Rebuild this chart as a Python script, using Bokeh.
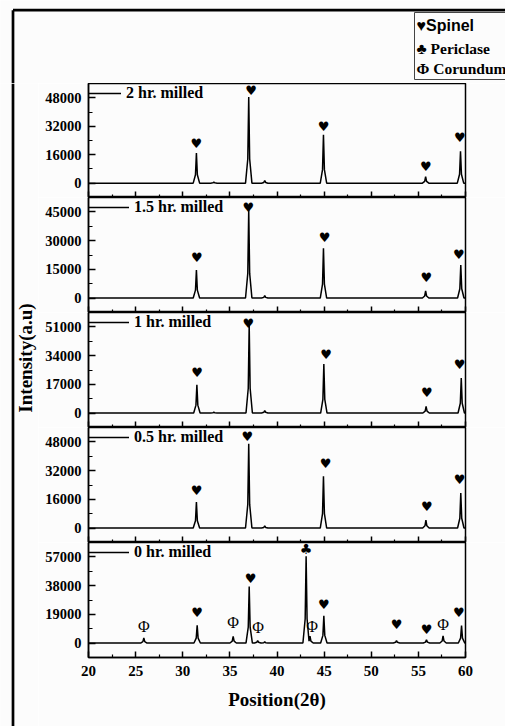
import math
from bokeh.plotting import figure
from bokeh.models import Range1d, FixedTicker, ColumnDataSource, Label
from bokeh.layouts import column, row
from bokeh.embed import file_html
from bokeh.resources import INLINE
from bokeh.core.properties import value

# ---------------- data ----------------
x_ticks = [20, 25, 30, 35, 40, 45, 50, 55, 60]
x_minor = [22.5, 27.5, 32.5, 37.5, 42.5, 47.5, 52.5, 57.5]

panel_labels = ["2 hr. milled", "1.5 hr. milled", "1 hr. milled", "0.5 hr. milled", "0 hr. milled"]

y_ticks_2h = [0, 16000, 32000, 48000]
y_ticks_15h = [0, 15000, 30000, 45000]
y_ticks_1h = [0, 17000, 34000, 51000]
y_ticks_05h = [0, 16000, 32000, 48000]
y_ticks_0h = [0, 19000, 38000, 57000]

peaks_2h_pos = [31.45, 33.3, 37.0, 38.7, 44.93, 55.77, 59.47]
peaks_2h_int = [16900, 600, 48500, 1500, 27200, 3700, 18000]
spinel_2h_x = [31.45, 37.25, 44.95, 55.8, 59.4]
spinel_2h_y = [22500, 52400, 31800, 9650, 25800]

peaks_15h_pos = [31.45, 37.0, 38.7, 44.93, 55.77, 59.5]
peaks_15h_int = [14700, 46000, 1300, 26000, 3800, 17300]
spinel_15h_x = [31.5, 36.95, 45.05, 55.85, 59.3]
spinel_15h_y = [21300, 47400, 31700, 10700, 23000]

peaks_1h_pos = [31.5, 33.3, 37.05, 38.7, 44.97, 55.82, 59.55]
peaks_1h_int = [16700, 500, 52500, 1500, 29000, 3900, 20700]
spinel_1h_x = [31.53, 36.95, 45.2, 55.9, 59.36]
spinel_1h_y = [24000, 53200, 34500, 12400, 28500]

peaks_05h_pos = [31.45, 37.0, 38.7, 44.93, 55.8, 59.5]
peaks_05h_int = [14500, 47000, 1200, 28900, 4400, 19500]
spinel_05h_x = [31.46, 36.85, 45.15, 55.9, 59.36]
spinel_05h_y = [21100, 50800, 35800, 11800, 27000]

peaks_0h_pos = [25.87, 31.53, 35.35, 37.05, 37.95, 38.7, 43.09, 43.5, 44.97, 52.68, 55.86, 57.62, 59.58]
peaks_0h_int = [3300, 11700, 4400, 37500, 1700, 900, 57400, 4500, 18100, 1700, 2200, 4800, 11500]
spinel_0h_x = [31.53, 37.2, 44.97, 52.68, 55.86, 59.3]
spinel_0h_y = [19900, 42600, 25400, 12600, 8800, 19900]
periclase_0h_x = [43.09]
periclase_0h_y = [62000]
corundum_0h_x = [25.87, 35.35, 38.0, 43.72, 57.62]
corundum_0h_y = [11000, 13700, 10300, 11000, 12100]

key_labels = ["\u2665Spinel", "\u2663 Periclase", "\u03a6 Corundum"]

# ---------------- style ----------------
SERIF = "Liberation Serif"
SANS = "Liberation Sans"
SYM = "DejaVu Sans"
BG = "#fcfcfc"
SHAPE_DX = [-0.34, -0.1, 0.0, 0.1, 0.34]
SHAPE_FRAC = [0.0, 0.28, 1.0, 0.28, 0.0]
PAD = 0.168


def profile(pos, inten):
    xs, ys = [float(x_ticks[0])], [0.0]
    for c, h in zip(pos, inten):
        px = [c + d for d in SHAPE_DX]
        py = [h * f for f in SHAPE_FRAC]
        if px[0] < xs[-1]:
            xs.pop(); ys.pop()
            px = px[1:]; py = py[1:]
        xs += px; ys += py
    xs.append(float(x_ticks[-1])); ys.append(0.0)
    return xs, ys


xr = Range1d(x_ticks[0], x_ticks[-1])

panels_spec = [
    (panel_labels[0], y_ticks_2h, peaks_2h_pos, peaks_2h_int,
     [(spinel_2h_x, spinel_2h_y, "\u2665")], 114, 0, 33),
    (panel_labels[1], y_ticks_15h, peaks_15h_pos, peaks_15h_int,
     [(spinel_15h_x, spinel_15h_y, "\u2665")], 115, 0, 41),
    (panel_labels[2], y_ticks_1h, peaks_1h_pos, peaks_1h_int,
     [(spinel_1h_x, spinel_1h_y, "\u2665")], 115, 0, 41),
    (panel_labels[3], y_ticks_05h, peaks_05h_pos, peaks_05h_int,
     [(spinel_05h_x, spinel_05h_y, "\u2665")], 115, 0, 41),
    (panel_labels[4], y_ticks_0h, peaks_0h_pos, peaks_0h_int,
     [(spinel_0h_x, spinel_0h_y, "\u2665"),
      (periclase_0h_x, periclase_0h_y, "\u2663"),
      (corundum_0h_x, corundum_0h_y, "\u03a6")], 115, 69, 41),
]

panels = []
for idx, (lab, yt, ppos, pint, markers, fh, bb, gw) in enumerate(panels_spec):
    top = yt[-1]
    last = idx == len(panels_spec) - 1
    p = figure(width=467, height=fh + bb, x_range=xr,
               y_range=Range1d(-PAD * top, (1 + PAD) * top),
               output_backend="svg", toolbar_location=None,
               min_border_left=50, min_border_right=40,
               min_border_top=0, min_border_bottom=bb)
    p.background_fill_color = BG
    p.border_fill_color = BG
    p.outline_line_color = "black"
    p.outline_line_width = 1.5
    p.grid.visible = False

    ya = p.yaxis[0]
    ya.ticker = FixedTicker(ticks=yt, minor_ticks=[top / 6, top / 2, 5 * top / 6])
    ya.major_tick_in = 7
    ya.major_tick_out = 0
    ya.minor_tick_in = 4
    ya.minor_tick_out = 0
    ya.axis_line_width = 1.5
    ya.major_tick_line_width = 1.5
    ya.minor_tick_line_width = 1.2
    ya.major_label_text_font = SERIF
    ya.major_label_text_font_style = "bold"
    ya.major_label_text_font_size = "14.5px"
    ya.major_label_text_color = "black"
    ya.major_label_standoff = 7

    xa = p.xaxis[0]
    xa.ticker = FixedTicker(ticks=x_ticks, minor_ticks=x_minor)
    xa.major_tick_in = 6
    xa.major_tick_out = 0
    xa.minor_tick_in = 3
    xa.minor_tick_out = 0
    xa.axis_line_width = 1.5
    xa.major_tick_line_width = 1.5
    xa.minor_tick_line_width = 1.2
    if last:
        xa.major_label_text_font = SERIF
        xa.major_label_text_font_style = "bold"
        xa.major_label_text_font_size = "15px"
        xa.major_label_text_color = "black"
        xa.major_label_standoff = 8
        xa.axis_label = "Position(2\u03b8)"
        xa.axis_label_text_font = SERIF
        xa.axis_label_text_font_style = "bold"
        xa.axis_label_text_font_size = "19px"
        xa.axis_label_text_color = "black"
        xa.axis_label_standoff = 10
    else:
        xa.major_label_text_font_size = "0px"
        xa.major_label_text_color = None
        xa.major_label_standoff = 0

    xs, ys = profile(ppos, pint)
    p.line(xs, ys, line_color="black", line_width=1.5, legend_label=lab)

    for mx, my, sym in markers:
        src = ColumnDataSource(dict(x=mx, y=my, t=[sym] * len(mx)))
        if sym == "\u03a6":
            font, size, style = SERIF, "16px", "normal"
        elif sym == "\u2663":
            font, size, style = SYM, "14px", "normal"
        else:
            font, size, style = SYM, "13px", "bold"
        p.text(x="x", y="y", text="t", source=src, text_font=value(font),
               text_font_size=size, text_font_style=style, text_color="black",
               text_align="center", text_baseline="middle")

    leg = p.legend[0]
    leg.location = "top_left"
    leg.margin = 0
    leg.padding = 4
    leg.glyph_width = gw
    leg.glyph_height = 20
    leg.label_height = 20
    leg.label_standoff = 5
    leg.border_line_color = None
    leg.background_fill_alpha = 0
    leg.label_text_font = SERIF
    leg.label_text_font_style = "bold"
    leg.label_text_font_size = "16px"
    leg.label_text_color = "black"
    panels.append(p)

# ---------------- header (outer frame top + key box) ----------------
hdr = figure(width=505, height=83, x_range=Range1d(0, 505), y_range=Range1d(83, 0),
             output_backend="svg", toolbar_location=None,
             x_axis_location=None, y_axis_location=None, min_border=0)
hdr.background_fill_color = BG
hdr.border_fill_color = BG
hdr.outline_line_color = None
hdr.grid.visible = False
hdr.segment(x0=[12.5, 12.5], y0=[9.7, 9.7], x1=[505, 12.5], y1=[9.7, 83],
            line_color="black", line_width=2.7)
hdr.quad(left=[414], right=[540], top=[12], bottom=[79], fill_color=None,
         line_color="#444444", line_width=1)
key_fonts = [SANS, SERIF, SERIF]
key_sizes = ["16px", "15.5px", "15.5px"]
key_y = [25, 47.7, 68.3]
for t, f, s, yy in zip(key_labels, key_fonts, key_sizes, key_y):
    hdr.add_layout(Label(x=416, y=yy, text=t, text_font=f, text_font_size=s,
                         text_font_style="bold", text_color="black",
                         text_baseline="middle", text_align="left"))

# ---------------- left strip (outer frame left + y label) ----------------
strip = figure(width=38, height=643, x_range=Range1d(0, 38), y_range=Range1d(726, 83),
               output_backend="svg", toolbar_location=None,
               x_axis_location=None, y_axis_location=None, min_border=0)
strip.background_fill_color = BG
strip.border_fill_color = BG
strip.outline_line_color = None
strip.grid.visible = False
strip.segment(x0=[12.5], y0=[83], x1=[12.5], y1=[726], line_color="black", line_width=2.7)
strip.add_layout(Label(x=25, y=357.5, text="Intensity(a.u)", angle=math.pi / 2,
                       text_font=SERIF, text_font_size="19px", text_font_style="bold",
                       text_color="black", text_align="center", text_baseline="middle"))

layout = column(hdr, row(strip, column(*panels)))
open("out.html", "w").write(file_html(layout, INLINE))
